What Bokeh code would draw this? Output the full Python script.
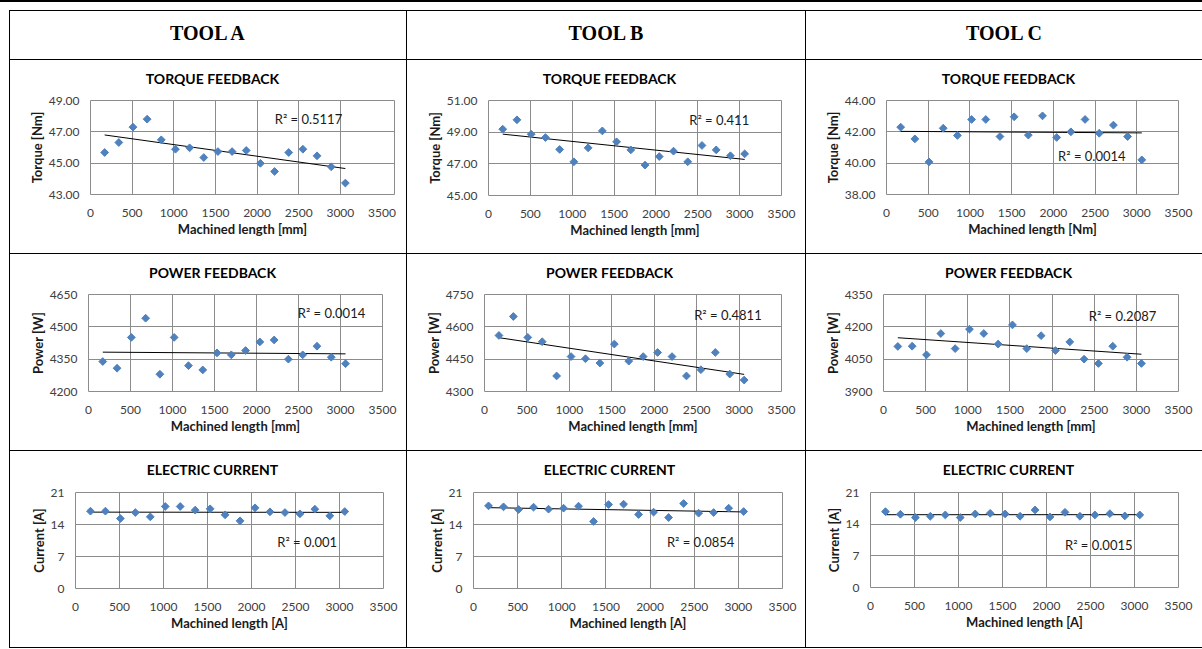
import numpy as np
from bokeh.plotting import figure
from bokeh.layouts import column, row
from bokeh.models import Spacer, Label, FixedTicker, NumeralTickFormatter
from bokeh.embed import file_html
from bokeh.resources import INLINE

# ---------------- data ----------------
tools = ["TOOL A", "TOOL B", "TOOL C"]
machined_length = [170, 340, 510, 680, 850, 1020, 1190, 1360, 1530,
                   1700, 1870, 2040, 2210, 2380, 2550, 2720, 2890, 3060]
x_ticks = [0, 500, 1000, 1500, 2000, 2500, 3000, 3500]

torque_a = [45.68, 46.32, 47.30, 47.81, 46.49, 45.89, 45.98, 45.36, 45.74,
            45.74, 45.81, 44.99, 44.47, 45.68, 45.89, 45.47, 44.77, 43.73]
torque_b = [49.19, 49.78, 48.87, 48.66, 47.91, 47.13, 48.01, 49.08, 48.39,
            47.88, 46.92, 47.46, 47.80, 47.13, 48.16, 47.88, 47.51, 47.63]
torque_c = [42.30, 41.55, 40.08, 42.23, 41.77, 42.79, 42.79, 41.70, 42.96,
            41.79, 43.02, 41.64, 42.00, 42.79, 41.91, 42.43, 41.70, 40.21]

power_a = [4339, 4308, 4451, 4540, 4280, 4451, 4320, 4300, 4379,
           4370, 4390, 4430, 4439, 4350, 4370, 4410, 4359, 4329]
power_b = [4560, 4648, 4551, 4531, 4372, 4462, 4452, 4432, 4520,
           4441, 4462, 4481, 4462, 4372, 4401, 4481, 4381, 4353]
power_c = [4109, 4110, 4070, 4169, 4099, 4189, 4169, 4120, 4209,
           4099, 4159, 4090, 4130, 4050, 4030, 4110, 4059, 4030]

current_a = [16.92, 16.92, 15.31, 16.62, 15.67, 17.94, 17.94, 17.14, 17.43,
             16.11, 14.80, 17.65, 16.77, 16.62, 16.33, 17.35, 15.89, 16.84]
current_b = [18.08, 17.86, 17.28, 17.79, 17.35, 17.57, 18.01, 14.66, 18.37,
             18.45, 16.19, 16.70, 15.53, 18.59, 16.48, 16.62, 17.57, 16.84]
current_c = [16.77, 16.19, 15.46, 15.75, 16.04, 15.46, 16.26, 16.40, 16.26,
             15.75, 17.14, 15.60, 16.62, 15.75, 16.04, 16.33, 15.82, 16.04]

torque_ticks_a = [43, 45, 47, 49]
torque_ticks_b = [45, 47, 49, 51]
torque_ticks_c = [38, 40, 42, 44]
power_ticks_a = [4200, 4350, 4500, 4650]
power_ticks_b = [4300, 4450, 4600, 4750]
power_ticks_c = [3900, 4050, 4200, 4350]
current_ticks = [0, 7, 14, 21]

r2_torque = ["R² = 0.5117", "R² = 0.411", "R² = 0.0014"]
r2_power = ["R² = 0.0014", "R² = 0.4811", "R² = 0.2087"]
r2_current = ["R² = 0.001", "R² = 0.0854", "R² = 0.0015"]

# ---------------- styles ----------------
BLUE = "#4F81BD"
GRID = "#8c8c8c"
FONT = "Lato"
TH = 30  # height of the chart-title strip

col_w = [396, 398, 396]
row_h = [193, 196, 196]


def blank_fig(w, h, xr, yr):
    p = figure(width=w, height=h, x_range=xr, y_range=yr,
               output_backend="svg", toolbar_location=None,
               min_border=0, outline_line_color=None,
               background_fill_color="white", border_fill_color="white")
    p.axis.visible = False
    p.grid.visible = False
    return p


def make_chart(title, ys, y_ticks, y_fmt, y_label, x_label, r2_text, r2_pos,
               cell_w, cell_h, left, fw, top, fh, x_end=3500):
    # title strip; its frame is aligned with the chart frame below it, so the
    # x range is expressed in cell pixels spanning that frame
    t = blank_fig(cell_w, TH, (left, left + fw), (0, TH))
    t.add_layout(Label(x=202, y=TH - 17.5, text=title, text_font=FONT,
                       text_font_size="14px", text_font_style="bold",
                       text_color="black", text_align="center",
                       text_baseline="middle"))

    h = cell_h - TH
    right = cell_w - left - fw
    bottom = h - (top - TH) - fh
    y0, y1 = y_ticks[0], y_ticks[-1]
    p = figure(width=cell_w, height=h, x_range=(0, x_end), y_range=(y0, y1),
               output_backend="svg", toolbar_location=None,
               min_border_left=left, min_border_right=right,
               min_border_top=top - TH, min_border_bottom=bottom,
               background_fill_color="white", border_fill_color="white",
               outline_line_color=GRID, outline_line_width=1)

    p.xaxis.ticker = FixedTicker(ticks=x_ticks)
    p.yaxis.ticker = FixedTicker(ticks=y_ticks)
    p.xgrid.ticker = FixedTicker(ticks=x_ticks[1:-1])
    p.ygrid.ticker = FixedTicker(ticks=y_ticks)
    p.grid.grid_line_color = GRID
    p.grid.grid_line_width = 1
    if y_fmt:
        p.yaxis.formatter = NumeralTickFormatter(format=y_fmt)
    for ax in (p.xaxis[0], p.yaxis[0]):
        ax.axis_line_color = None
        ax.major_tick_line_color = None
        ax.minor_tick_line_color = None
        ax.major_label_text_font = FONT
        ax.major_label_text_font_size = "12px"
        ax.major_label_text_color = "#404040"
        ax.axis_label_text_font = FONT
        ax.axis_label_text_font_size = "13px"
        ax.axis_label_text_font_style = "bold"
        ax.axis_label_text_color = "#1a1a1a"
    p.xaxis.axis_label = x_label
    p.yaxis.axis_label = y_label
    p.xaxis.major_label_standoff = 8
    p.xaxis.axis_label_standoff = 1
    p.yaxis.major_label_standoff = 5
    p.yaxis.axis_label_standoff = 1

    # trend line (least squares)
    coef = np.polyfit(machined_length, ys, 1)
    tx = [min(machined_length), max(machined_length)]
    p.line(tx, list(np.polyval(coef, tx)), line_color="black", line_width=1)

    p.scatter(machined_length, ys, marker="square", angle=np.pi / 4, size=5.5,
              fill_color=BLUE, line_color=BLUE)

    p.add_layout(Label(x=r2_pos[0], y=r2_pos[1], text=r2_text, text_font=FONT,
                       text_font_size="13px", text_color="#1a1a1a",
                       text_align="center", text_baseline="middle"))
    return column([t, p], spacing=0)


def header(text, w):
    p = blank_fig(w, 48, (0, 1), (0, 1))
    p.add_layout(Label(x=0.5, y=0.55, text=text, text_font="Liberation Serif",
                       text_font_size="20px", text_font_style="bold",
                       text_color="black", text_align="center",
                       text_baseline="middle"))
    return p


def blk(w, h):
    return Spacer(width=w, height=h, styles={"background-color": "black"})


torque_charts = [
    make_chart("TORQUE FEEDBACK", torque_a, torque_ticks_a, "0.00", "Torque [Nm]",
               "Machined length [mm]", r2_torque[0], (2617, 47.79),
               col_w[0], row_h[0], 80, 304, 40, 94, x_end=3650),
    make_chart("TORQUE FEEDBACK", torque_b, torque_ticks_b, "0.00", "Torque [Nm]",
               "Machined length [mm]", r2_torque[1], (2756, 49.8),
               col_w[1], row_h[0], 81, 293, 40, 95),
    make_chart("TORQUE FEEDBACK", torque_c, torque_ticks_c, "0.00", "Torque [Nm]",
               "Machined length [Nm]", r2_torque[2], (2461, 40.44),
               col_w[2], row_h[0], 80, 292, 40, 94),
]
power_charts = [
    make_chart("POWER FEEDBACK", power_a, power_ticks_a, None, "Power [W]",
               "Machined length [mm]", r2_power[0], (2893, 4563),
               col_w[0], row_h[1], 78, 294, 40, 97),
    make_chart("POWER FEEDBACK", power_b, power_ticks_b, None, "Power [W]",
               "Machined length [mm]", r2_power[1], (2869, 4657),
               col_w[1], row_h[1], 77, 297, 40, 97),
    make_chart("POWER FEEDBACK", power_c, power_ticks_c, None, "Power [W]",
               "Machined length [mm]", r2_power[2], (2836, 4248),
               col_w[2], row_h[1], 77, 295, 40, 97),
]
current_charts = [
    make_chart("ELECTRIC CURRENT", current_a, current_ticks, None, "Current [A]",
               "Machined length [A]", r2_current[0], (2633, 10.13),
               col_w[0], row_h[2], 65, 308, 41, 96),
    make_chart("ELECTRIC CURRENT", current_b, current_ticks, None, "Current [A]",
               "Machined length [A]", r2_current[1], (2573, 10.13),
               col_w[1], row_h[2], 66, 309, 41, 96),
    make_chart("ELECTRIC CURRENT", current_c, current_ticks, None, "Current [A]",
               "Machined length [A]", r2_current[2], (2594, 9.5),
               col_w[2], row_h[2], 64, 308, 41, 95),
]

headers = [header(t, w) for t, w in zip(tools, col_w)]

TW = 1 + sum(col_w) + 3 - 1  # 1193


def table_row(cells, h):
    kids = []
    for c in cells:
        kids.append(blk(1, h))
        kids.append(c)
    return row(kids, spacing=0)


table = column([
    blk(TW, 1),
    table_row(headers, 48),
    blk(TW, 1),
    table_row(torque_charts, row_h[0]),
    blk(TW, 1),
    table_row(power_charts, row_h[1]),
    blk(TW, 1),
    table_row(current_charts, row_h[2]),
    blk(TW, 1),
], spacing=0)

page = column([
    blk(1202, 2),
    Spacer(width=1202, height=8),
    row([Spacer(width=9, height=638), table], spacing=0),
], spacing=0)

open("out.html", "w").write(file_html(page, INLINE))
